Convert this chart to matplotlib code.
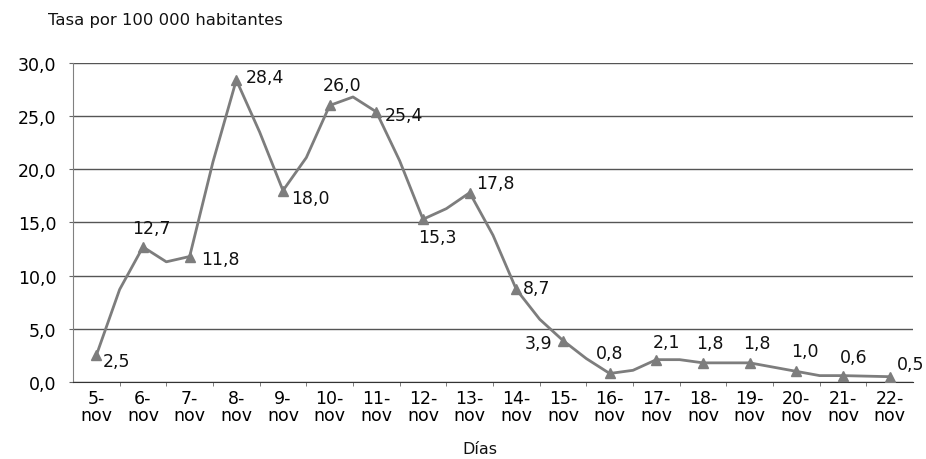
import matplotlib.pyplot as plt

plt.rcParams['font.family'] = ['DejaVu Sans']

# daily rates (labelled, with markers)
dias = ['5-\nnov', '6-\nnov', '7-\nnov', '8-\nnov', '9-\nnov', '10-\nnov',
        '11-\nnov', '12-\nnov', '13-\nnov', '14-\nnov', '15-\nnov', '16-\nnov',
        '17-\nnov', '18-\nnov', '19-\nnov', '20-\nnov', '21-\nnov', '22-\nnov']
tasa = [2.5, 12.7, 11.8, 28.4, 18.0, 26.0, 25.4, 15.3, 17.8,
        8.7, 3.9, 0.8, 2.1, 1.8, 1.8, 1.0, 0.6, 0.5]
# readings half-way between days (line only)
tasa_medio = [8.7, 11.3, 20.7, 23.5, 21.1, 26.8, 20.8, 16.3, 13.8,
              5.9, 2.2, 1.1, 2.1, 1.8, 1.4, 0.6, 0.55]

# label offsets in points (dx, dy, ha, va)
etiq = [(5, -4, 'left', 'center'), (6, 7, 'center', 'bottom'),
        (8, -2, 'left', 'center'), (7, 2, 'left', 'center'),
        (6, -5, 'left', 'center'), (9, 8, 'center', 'bottom'),
        (6, -2, 'left', 'center'), (10, -6, 'center', 'top'),
        (5, 7, 'left', 'center'), (5, 1, 'left', 'center'),
        (-8, -2, 'right', 'center'), (0, 8, 'center', 'bottom'),
        (7, 6, 'center', 'bottom'), (5, 8, 'center', 'bottom'),
        (5, 8, 'center', 'bottom'), (6, 8, 'center', 'bottom'),
        (8, 7, 'center', 'bottom'), (5, 3, 'left', 'bottom')]

x = list(range(len(tasa)))
xs, ys = [], []
for i, v in enumerate(tasa):
    xs.append(i)
    ys.append(v)
    if i < len(tasa_medio):
        xs.append(i + 0.5)
        ys.append(tasa_medio[i])

fig = plt.figure(figsize=(9.26, 4.6), dpi=100)
ax = fig.add_axes([0.0788, 0.1674, 0.9072, 0.6936])

gris = '#7d7d7d'
ax.plot(xs, ys, color=gris, lw=2.0, solid_joinstyle='round', zorder=3)
ax.plot(x, tasa, ls='none', marker='^', ms=7, color=gris, zorder=4)

for i, v in enumerate(tasa):
    dx, dy, ha, va = etiq[i]
    ax.annotate(f'{v:.1f}'.replace('.', ','), (i, v), xytext=(dx, dy),
                textcoords='offset points', ha=ha, va=va, fontsize=12.5,
                color='#111111', zorder=5)

ax.set_xlim(-0.5, len(tasa) - 0.5)
ax.set_ylim(0, 30)
ax.set_yticks([0, 5, 10, 15, 20, 25, 30])
ax.set_yticklabels([f'{t:.1f}'.replace('.', ',') for t in [0, 5, 10, 15, 20, 25, 30]],
                   fontsize=12.5)
ax.set_xticks(x)
ax.set_xticklabels(dias, fontsize=12.5, linespacing=0.9)
ax.set_xticks([i + 0.5 for i in x[:-1]], minor=True)
ax.tick_params(axis='x', which='major', length=0, pad=5)
ax.tick_params(axis='x', which='minor', length=3, color='#666666')
ax.tick_params(axis='y', length=3, color='#666666', pad=9)

ax.grid(axis='y', color='#555555', lw=1)
ax.set_axisbelow(True)
for s in ['top', 'right']:
    ax.spines[s].set_visible(False)
ax.spines['left'].set_color('#808080')
ax.spines['bottom'].set_color('#333333')

fig.text(0.052, 0.955, 'Tasa por 100 000 habitantes', fontsize=11.8,
         ha='left', va='center', color='#111111')
fig.text(0.518, 0.022, 'Días', fontsize=11.5, ha='center', va='center', color='#111111')

fig.savefig('out.png', dpi=100)
